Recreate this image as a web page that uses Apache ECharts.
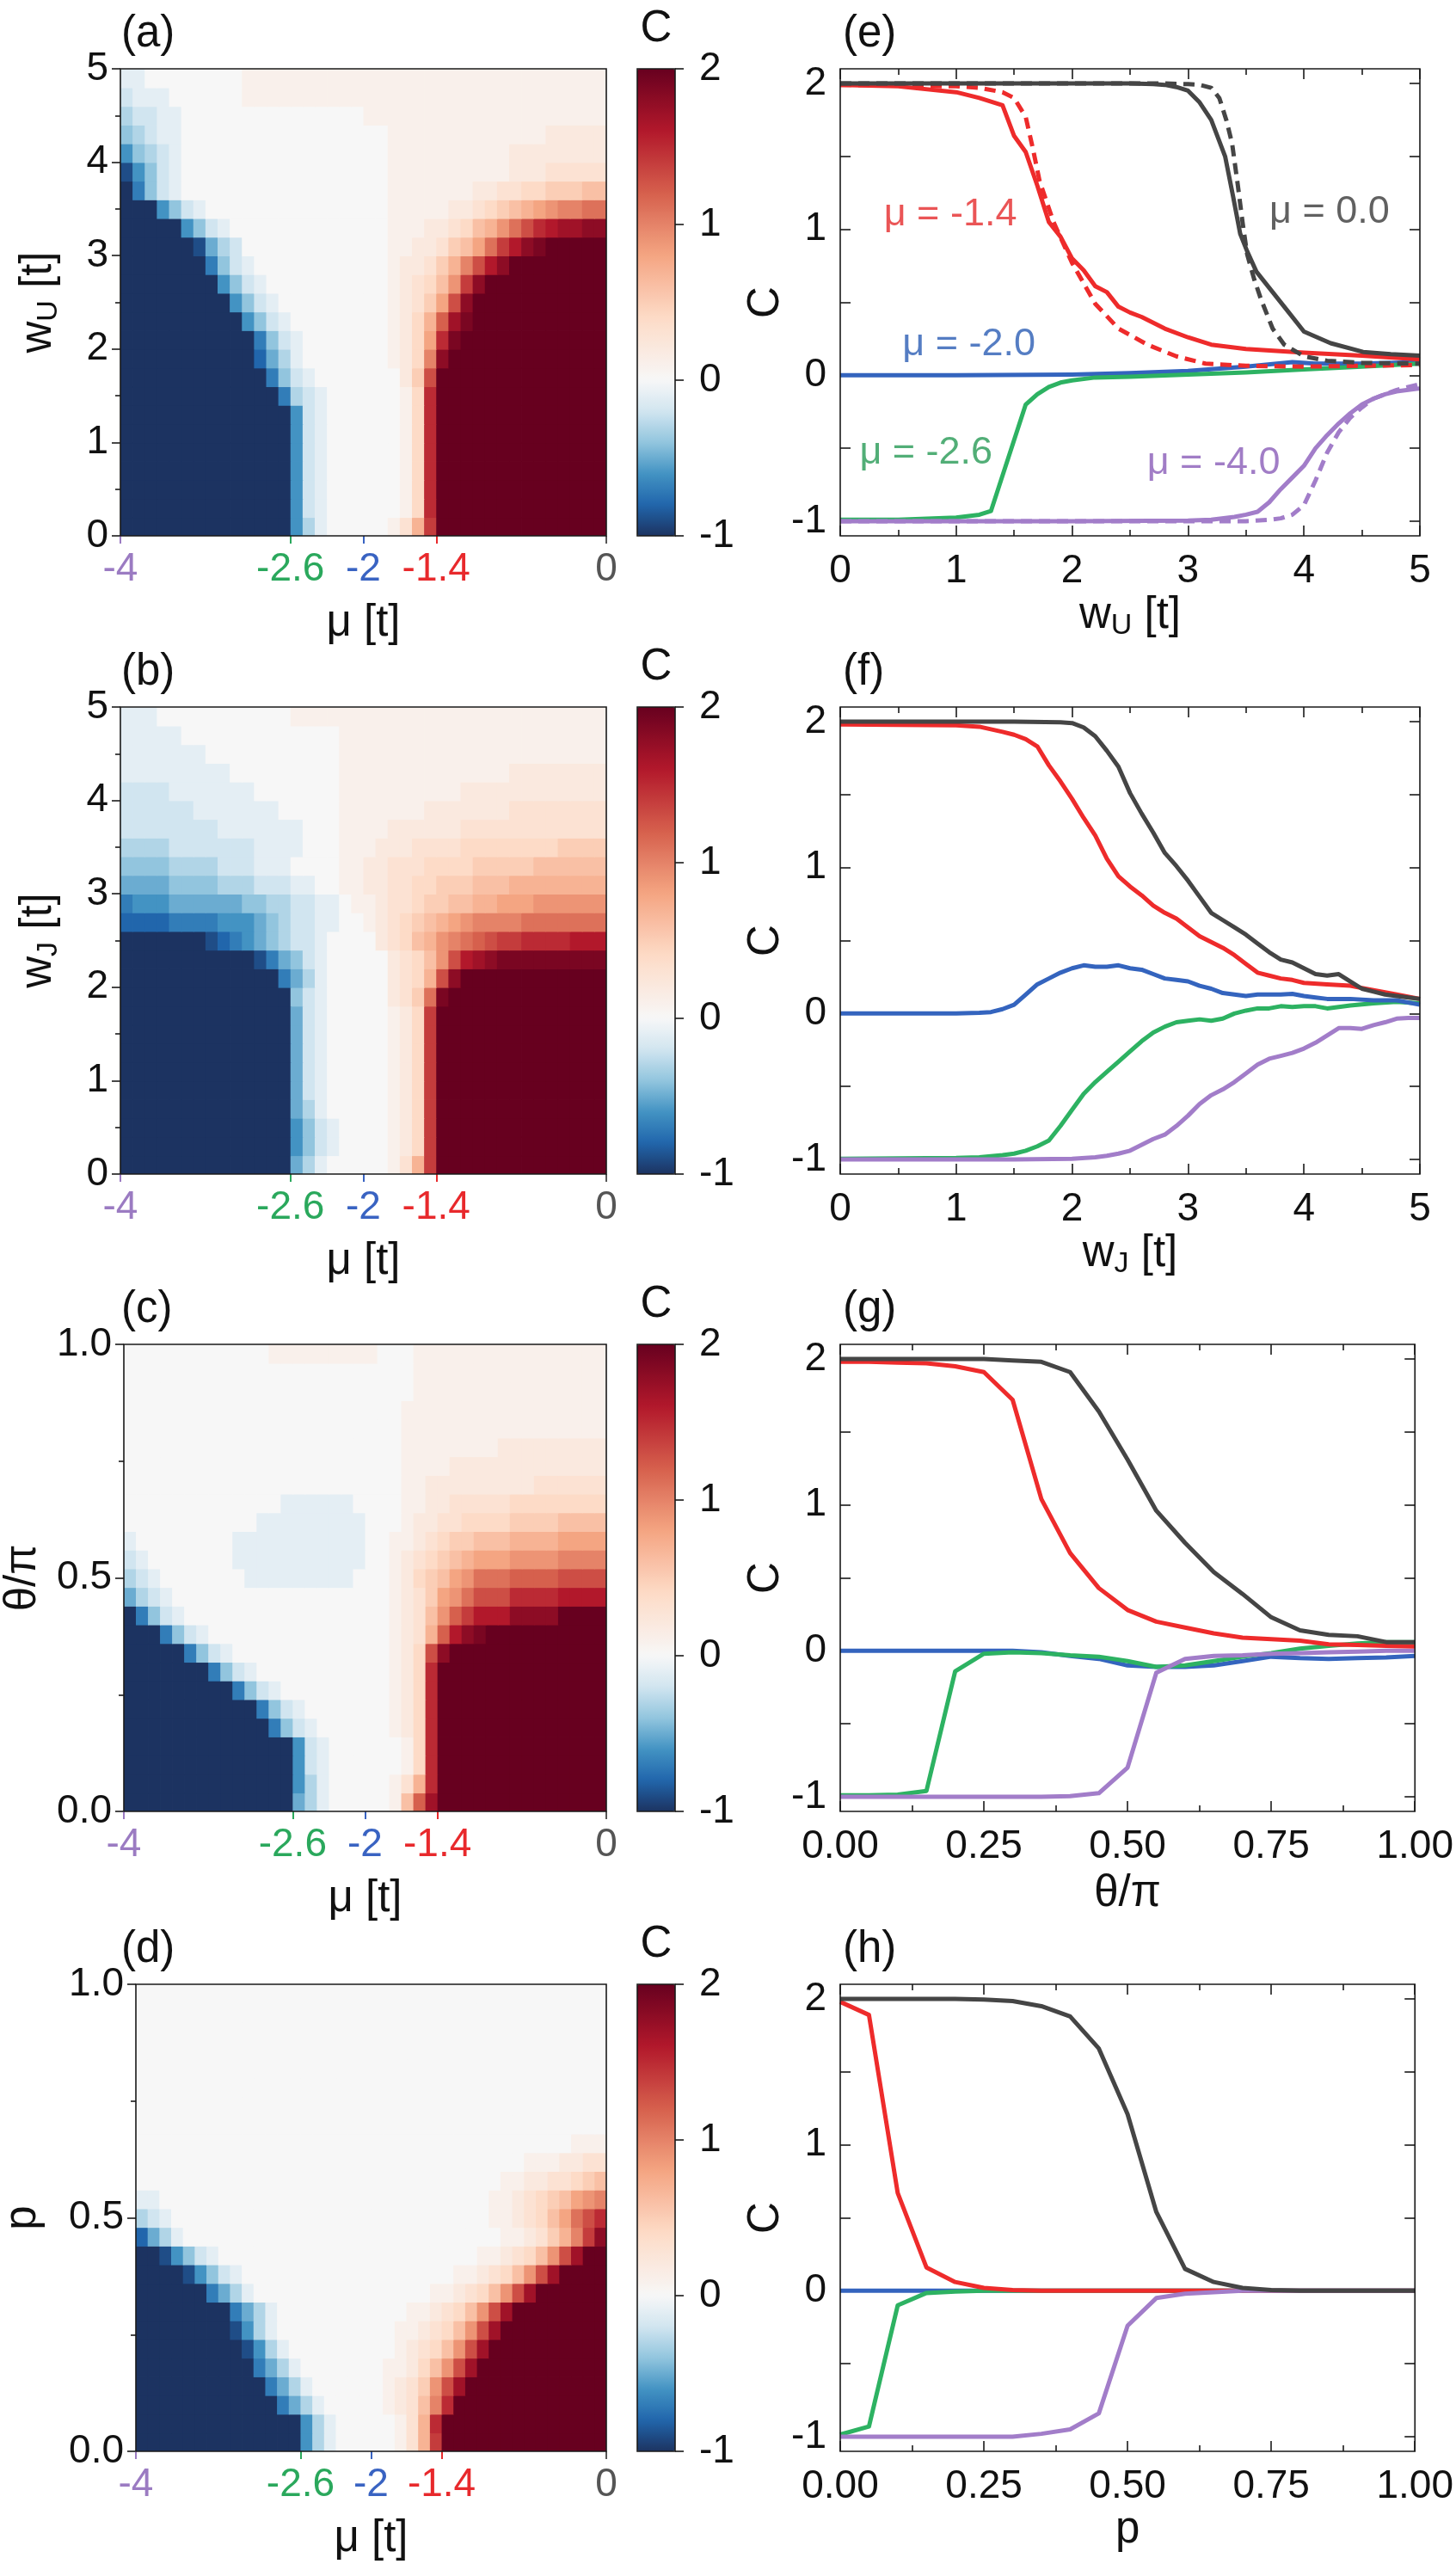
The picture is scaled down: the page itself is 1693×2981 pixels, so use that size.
<!DOCTYPE html>
<html><head><meta charset="utf-8">
<script src="https://cdn.jsdelivr.net/npm/echarts@6/dist/echarts.min.js"></script>
<style>html,body{margin:0;padding:0;background:#fff}#c{width:1693px;height:2981px}</style>
</head><body><div id="c"></div>
<script>
// ---------------- DATA ----------------
// heat-map cell centres
const muCells = [-3.95,-3.85,-3.75,-3.65,-3.55,-3.45,-3.35,-3.25,-3.15,-3.05,-2.95,-2.85,-2.75,-2.65,-2.55,-2.45,-2.35,-2.25,-2.15,-2.05,-1.95,-1.85,-1.75,-1.65,-1.55,-1.45,-1.35,-1.25,-1.15,-1.05,-0.95,-0.85,-0.75,-0.65,-0.55,-0.45,-0.35,-0.25,-0.15,-0.05];
const wCells = [0.1,0.3,0.5,0.7,0.9,1.1,1.3,1.5,1.7,1.9,2.1,2.3,2.5,2.7,2.9,3.1,3.3,3.5,3.7,3.9,4.1,4.3,4.5,4.7,4.9];
const fracCells = [0.02,0.06,0.10,0.14,0.18,0.22,0.26,0.30,0.34,0.38,0.42,0.46,0.50,0.54,0.58,0.62,0.66,0.70,0.74,0.78,0.82,0.86,0.90,0.94,0.98];
// C levels: letter index * 0.1 - 1  (A=-1, K=0, U=1, e=2); rows run-length coded, bottom row first
const levelCodes = "ABCDEFGHIJKLMNOPQRSTUVWXYZabcde";
const heatA = [
"A14 E H J K5 L N R Y e14","A14 E I J K6 L O Z e14","A14 E I J K6 L O Z e14","A14 E I J K6 L O Z e14","A14 E I J K6 L O Z e14",
"A14 E I J K6 L O Z e14","A14 E I J K6 L O Z e14","A13 D H I J K6 L O Z e14","A12 D G I J K7 M P X e14","A11 C F H J K7 L M O U c e13",
"A11 D G I J K7 L M O S Z d e12","A10 E G I J K8 L M O R W b d e11","A9 E G I J K9 L M N P S X c e11","A8 E G I J K10 L M N O Q T Y c e10","A7 D G I J K11 L M M N P R U X a c e8",
"A6 B F H I K12 L L M M N P Q S V Y a c d e5","A5 E G I J K13 L3 M2 N O Q R T V X Z a b2 c2","A3 E G I J K15 L5 M2 N O P Q R S T U2 V2","A D G I J K17 L7 M2 N2 O2 P3 Q2","B E G I J K17 L10 M3 N5",
"E G H I J K17 L10 M8","G H I J J K17 L13 M5","H I I J J K15 L20","I J3 K6 L30","J2 K8 L30"];
const heatB = [
"A14 F H J K5 L N R Y e14","A14 E G I J K4 L M O Y e14","A14 E G I J K4 L M O Y e14","A14 F H J K5 L M O Y e14","A14 F I J K5 L M O Y e14",
"A14 F I J K5 L M O Y e14","A14 F I J K5 L M O Y e14","A14 F I J K5 L M O Y e14","A14 F I J K5 L M O Y e14","A14 G I J K5 M N P V d e13",
"A13 D F H J K5 M N O R X c e12","A11 B D F G I J K5 M N O Q T X a b c d9","A7 B C D E F G H I I J K4 M N O Q R T U V W X Y Y Z4 a3","C4 D4 E3 F G H I I J J K2 L M N O P Q R S T U4 V7","D E3 F6 G2 H2 I2 J2 K L2 M N2 O P2 Q2 R2 S3 T6",
"F4 G4 H3 I3 J2 K2 L2 M2 N2 O2 P3 Q3 R8","G4 H4 I3 J3 K4 L2 M2 N3 O4 P5 Q6","H4 I7 J4 K3 L3 M3 N4 O8 P4","I8 J7 K3 L4 M6 N12","I6 J7 K5 L7 M7 N8",
"I4 J7 K7 L10 M12","J9 K9 L14 M8","J7 K11 L22","J5 K13 L22","J3 K11 L26"];
const heatC = [
"A14 F H J K5 L Q W b e14","A14 E H J K5 L N R Z e14","A14 E I J K6 L O Z e14","A14 E I J K6 L O Z e14","A12 D G I J K6 L M O Z e14",
"A11 D G I J K7 L M O Z e14","A9 D G I J K9 L M O Z e14","A7 D G I J K11 L M O Z e14","A5 D G I J K13 L M O X c e13","A3 D G I J K15 L M N R W a c d e10",
"A D G I J K17 L M N Q T W Y a3 c4 e4","F H I J K18 L M N P S T V X3 Z4 a4","H I J K7 J9 K3 L M O P Q S T V3 W4 X4","I J K7 J11 K2 L M N O P Q R S3 T4 U4","J K8 J11 K2 L L M N O P P Q3 R4 S4",
"K11 J9 K3 L M M N N O O3 P4 Q4","K13 J6 K4 L2 M2 N5 O8","K23 L2 M9 N6","K23 L4 M13","K23 L8 M9",
"K23 L17","K23 L17","K24 L16","K24 L16","K12 L9 K3 L16"];
const heatD = [
"A14 E H J K5 L N R Y e14","A14 E H J K5 L N R Z e14","A12 D F H J K5 L M N Q U Z e13","A11 D F H J K6 L M N P T X b e12","A10 D F H J K7 L L M O Q T X b e11",
"A9 B E H J K9 L M N O Q T X b e10","A8 B E H J K10 L L M N O Q T X b e9","A8 D F H J K11 L L M N O Q T X b e8","A6 D F H J K15 L L M N O Q T X b e6","A4 B E G I J K18 L L M N O Q T X b e4",
"A2 B E G I J K22 L L M N O Q T X b e2","C F H J K27 L L M N P R U Y c","H I J K27 L L M N O Q S V X Z","J2 K28 L L M N O P Q S T U","K31 L L M M N N O P Q",
"K33 L3 M2 N2","K37 L3","K40","K40","K40","K40","K40","K40","K40","K40"];

const muTicks = [-4, -2.6, -2, -1.4, 0];
const muTickLabels = ['-4', '-2.6', '-2', '-1.4', '0'];
const muTickColors = ['#9b7bc2', '#2aa85c', '#3963c2', '#e8292c', '#555555'];
const cbTicks = [-1, 0, 1, 2];
const lineYLabels = [-1, 0, 1, 2];
const lineYTicks = [-1, -0.5, 0, 0.5, 1, 1.5, 2];

// (e)  C vs w_U
const eBlack = [[0,2],[1,2],[2,2],[2.5,2],[2.7,1.995],[2.8,1.99],[2.9,1.975],[3.0,1.95],[3.1,1.87],[3.2,1.75],[3.32,1.5],[3.39,1.22],[3.45,0.97],[3.51,0.85],[3.59,0.71],[3.73,0.57],[3.87,0.43],[4.0,0.3],[4.23,0.22],[4.51,0.16],[4.75,0.145],[5.0,0.135]];
const eBlackDash = [[0,2],[2.8,2],[3.0,1.995],[3.1,1.99],[3.2,1.97],[3.27,1.9],[3.33,1.75],[3.38,1.59],[3.43,1.3],[3.47,1.05],[3.51,0.83],[3.57,0.66],[3.63,0.52],[3.73,0.32],[3.83,0.21],[4.0,0.13],[4.2,0.1],[4.5,0.085],[5.0,0.08]];
const eRed = [[0,1.99],[0.5,1.98],[1.0,1.94],[1.2,1.9],[1.4,1.85],[1.5,1.64],[1.6,1.53],[1.7,1.3],[1.8,1.05],[1.9,0.95],[2.0,0.8],[2.1,0.72],[2.2,0.61],[2.3,0.57],[2.4,0.47],[2.5,0.43],[2.6,0.4],[2.8,0.32],[3.0,0.26],[3.2,0.21],[3.5,0.18],[4.0,0.155],[4.5,0.135],[5.0,0.11]];
const eRedDash = [[0,1.99],[1.0,1.98],[1.2,1.97],[1.4,1.94],[1.5,1.9],[1.6,1.77],[1.66,1.56],[1.72,1.33],[1.84,1.05],[2.0,0.77],[2.2,0.49],[2.4,0.32],[2.65,0.21],[2.9,0.13],[3.15,0.08],[3.5,0.065],[4.0,0.06],[4.5,0.065],[5.0,0.07]];
const eBlue = [[0,0],[1,0],[2,0.005],[2.5,0.015],[3,0.03],[3.5,0.06],[3.9,0.09],[4.1,0.08],[4.5,0.08],[5,0.09]];
const eGreen = [[0,-0.99],[0.5,-0.99],[1.0,-0.975],[1.2,-0.955],[1.3,-0.93],[1.6,-0.2],[1.7,-0.13],[1.8,-0.08],[1.9,-0.05],[2.0,-0.035],[2.2,-0.015],[2.5,-0.01],[3.0,0.005],[3.5,0.02],[4.0,0.04],[4.5,0.06],[5.0,0.08]];
const ePurple = [[0,-1],[2,-1],[3.0,-0.995],[3.2,-0.99],[3.4,-0.97],[3.5,-0.955],[3.6,-0.935],[3.7,-0.87],[3.8,-0.78],[3.9,-0.7],[4.0,-0.62],[4.1,-0.5],[4.2,-0.41],[4.3,-0.33],[4.4,-0.26],[4.5,-0.2],[4.6,-0.16],[4.7,-0.13],[4.8,-0.11],[4.9,-0.1],[5.0,-0.09]];
const ePurpleDash = [[0,-1],[3.5,-1],[3.7,-0.99],[3.8,-0.98],[3.9,-0.955],[4.0,-0.89],[4.1,-0.72],[4.2,-0.53],[4.3,-0.39],[4.4,-0.29],[4.5,-0.22],[4.6,-0.16],[4.7,-0.13],[4.8,-0.1],[4.9,-0.08],[5.0,-0.06]];
const eNoteText = ['μ = -1.4', 'μ = 0.0', 'μ = -2.0', 'μ = -2.6', 'μ = -4.0'];
const eNoteAt = [[0.95,1.10],[4.22,1.12],[1.11,0.21],[0.74,-0.53],[3.22,-0.60]];
const eNoteColor = ['#e52a2c', '#3a3a3a', '#2b5db4', '#279a55', '#8a5cb8'];

// (f)  C vs w_J
const fBlack = [[0,2],[1,2],[1.5,2],[1.9,1.995],[2.0,1.99],[2.1,1.96],[2.2,1.9],[2.3,1.8],[2.4,1.69],[2.5,1.51],[2.6,1.37],[2.7,1.24],[2.8,1.1],[2.9,1.01],[3.0,0.91],[3.1,0.8],[3.2,0.69],[3.3,0.64],[3.4,0.59],[3.5,0.54],[3.6,0.48],[3.7,0.42],[3.8,0.37],[3.9,0.35],[4.0,0.31],[4.1,0.27],[4.2,0.26],[4.3,0.27],[4.4,0.22],[4.5,0.17],[4.6,0.15],[4.7,0.13],[4.8,0.12],[4.9,0.11],[5.0,0.1]];
const fRed = [[0,1.98],[1.0,1.975],[1.2,1.965],[1.4,1.93],[1.5,1.91],[1.6,1.88],[1.7,1.83],[1.8,1.7],[1.9,1.59],[2.0,1.47],[2.1,1.34],[2.2,1.22],[2.3,1.06],[2.4,0.94],[2.5,0.87],[2.6,0.81],[2.7,0.74],[2.8,0.69],[2.9,0.65],[3.0,0.59],[3.1,0.53],[3.2,0.49],[3.3,0.45],[3.4,0.4],[3.5,0.34],[3.6,0.28],[3.7,0.26],[3.8,0.24],[3.9,0.23],[4.0,0.21],[4.2,0.2],[4.4,0.19],[4.6,0.16],[4.8,0.13],[5.0,0.1]];
const fBlue = [[0,0],[1.0,0],[1.2,0.005],[1.3,0.01],[1.4,0.03],[1.5,0.06],[1.6,0.13],[1.7,0.2],[1.8,0.24],[1.9,0.28],[2.0,0.31],[2.1,0.33],[2.2,0.32],[2.3,0.32],[2.4,0.33],[2.5,0.31],[2.6,0.3],[2.7,0.27],[2.8,0.24],[2.9,0.23],[3.0,0.22],[3.1,0.19],[3.2,0.17],[3.3,0.14],[3.4,0.13],[3.5,0.12],[3.6,0.13],[3.8,0.13],[3.9,0.135],[4.0,0.12],[4.1,0.11],[4.2,0.1],[4.4,0.1],[4.6,0.09],[4.8,0.09],[5.0,0.06]];
const fGreen = [[0,-0.995],[1.0,-0.99],[1.2,-0.985],[1.4,-0.97],[1.5,-0.96],[1.6,-0.94],[1.7,-0.91],[1.8,-0.87],[1.9,-0.77],[2.0,-0.66],[2.1,-0.55],[2.2,-0.47],[2.3,-0.4],[2.4,-0.33],[2.5,-0.26],[2.6,-0.19],[2.7,-0.13],[2.8,-0.09],[2.9,-0.06],[3.0,-0.05],[3.1,-0.04],[3.2,-0.05],[3.3,-0.035],[3.4,0],[3.5,0.02],[3.6,0.035],[3.7,0.035],[3.8,0.05],[3.9,0.045],[4.0,0.05],[4.1,0.05],[4.2,0.035],[4.3,0.045],[4.4,0.055],[4.6,0.07],[4.8,0.08],[5.0,0.07]];
const fPurple = [[0,-1],[1.5,-1],[2.0,-0.995],[2.2,-0.985],[2.3,-0.975],[2.4,-0.96],[2.5,-0.94],[2.6,-0.9],[2.7,-0.86],[2.8,-0.83],[2.9,-0.77],[3.0,-0.7],[3.1,-0.62],[3.2,-0.56],[3.3,-0.52],[3.4,-0.47],[3.5,-0.41],[3.6,-0.35],[3.7,-0.31],[3.8,-0.29],[3.9,-0.27],[4.0,-0.24],[4.1,-0.2],[4.2,-0.15],[4.3,-0.1],[4.4,-0.1],[4.5,-0.105],[4.6,-0.08],[4.7,-0.06],[4.8,-0.035],[4.9,-0.03],[5.0,-0.03]];

// (g)  C vs theta/pi
const gBlack = [[0,2],[0.05,2],[0.1,2],[0.15,2],[0.2,2],[0.25,2],[0.3,1.99],[0.35,1.98],[0.4,1.91],[0.45,1.64],[0.5,1.31],[0.55,0.96],[0.6,0.74],[0.65,0.54],[0.7,0.39],[0.75,0.23],[0.8,0.14],[0.85,0.11],[0.9,0.1],[0.95,0.06],[1.0,0.06]];
const gRed = [[0,1.98],[0.05,1.98],[0.1,1.975],[0.15,1.97],[0.2,1.95],[0.25,1.91],[0.3,1.72],[0.35,1.04],[0.4,0.67],[0.45,0.43],[0.5,0.28],[0.55,0.2],[0.6,0.16],[0.65,0.12],[0.7,0.09],[0.75,0.08],[0.8,0.07],[0.85,0.045],[0.9,0.04],[0.95,0.035],[1.0,0.03]];
const gBlue = [[0,0],[0.05,0],[0.1,0],[0.15,0],[0.2,0],[0.25,0],[0.3,0],[0.35,-0.01],[0.4,-0.035],[0.45,-0.055],[0.5,-0.1],[0.55,-0.11],[0.6,-0.11],[0.65,-0.1],[0.7,-0.07],[0.75,-0.04],[0.8,-0.05],[0.85,-0.055],[0.9,-0.05],[0.95,-0.045],[1.0,-0.035]];
const gGreen = [[0,-0.99],[0.05,-0.99],[0.1,-0.985],[0.15,-0.96],[0.2,-0.14],[0.25,-0.02],[0.3,-0.01],[0.35,-0.015],[0.4,-0.03],[0.45,-0.04],[0.5,-0.07],[0.55,-0.11],[0.6,-0.1],[0.65,-0.07],[0.7,-0.04],[0.75,-0.015],[0.8,0.015],[0.85,0.035],[0.9,0.05],[0.95,0.06],[1.0,0.06]];
const gPurple = [[0,-1],[0.05,-1],[0.1,-1],[0.15,-1],[0.2,-1],[0.25,-1],[0.3,-1],[0.35,-1],[0.4,-0.995],[0.45,-0.975],[0.5,-0.8],[0.55,-0.15],[0.6,-0.055],[0.65,-0.035],[0.7,-0.03],[0.75,-0.02],[0.8,-0.015],[0.85,-0.01],[0.9,-0.005],[0.95,0],[1.0,0]];

// (h)  C vs p
const hBlack = [[0,2],[0.05,2],[0.1,2],[0.15,2],[0.2,2],[0.25,1.995],[0.3,1.985],[0.35,1.95],[0.4,1.88],[0.45,1.66],[0.5,1.21],[0.55,0.54],[0.6,0.15],[0.65,0.06],[0.7,0.02],[0.75,0.005],[0.8,0],[0.85,0],[0.9,0],[0.95,0],[1.0,0]];
const hRed = [[0,1.98],[0.05,1.89],[0.1,0.67],[0.15,0.16],[0.2,0.06],[0.25,0.02],[0.3,0.005],[0.35,0],[0.5,0],[0.75,0],[1.0,0]];
const hBlue = [[0,0],[0.25,0],[0.5,0],[0.75,0],[1.0,0]];
const hGreen = [[0,-0.985],[0.05,-0.93],[0.1,-0.1],[0.15,-0.015],[0.2,-0.005],[0.25,0],[0.5,0],[0.75,0],[1.0,0]];
const hPurple = [[0,-1],[0.05,-1],[0.1,-1],[0.15,-1],[0.2,-1],[0.25,-1],[0.3,-1],[0.35,-0.98],[0.4,-0.95],[0.45,-0.84],[0.5,-0.24],[0.55,-0.05],[0.6,-0.02],[0.65,-0.01],[0.7,0],[0.75,0],[0.8,0],[1.0,0]];

// ---------------- STYLE / LAYOUT ----------------
const FONT = "'Liberation Sans', Arial, Helvetica, sans-serif";
const INK = '#111111';
const rowTops = [80, 822, 1563, 2307];
const PLOT_H = 543;
const HEAT_LEFT = 140, HEAT_W = 565;
const CB_LEFT = 741, CB_W = 44;
const LINE_LEFT = 977, LINE_W = 674;
const TICK_FS = 46, NAME_FS = 51;
const cmap = ['#1c3361','#2166ac','#4393c3','#92c5de','#d1e5f0','#f7f7f7','#fae9df','#fddbc7','#f9c0a5','#f4a582','#e58368','#d6604d','#c43c3c','#b2182b','#8d0c25','#67001f'];
const COL = {black:'#454545', red:'#ee2b2b', blue:'#3464be', green:'#2db262', purple:'#a27dc9'};

function levelValue(ch) { return Math.round((levelCodes.indexOf(ch) * 0.1 - 1) * 10) / 10; }
function decodeRow(rle) {
  const out = [];
  rle.trim().split(/\s+/).forEach(tok => {
    const n = tok.length > 1 ? parseInt(tok.slice(1), 10) : 1;
    for (let i = 0; i < n; i++) out.push(levelValue(tok[0]));
  });
  return out;
}
function heatData(rows, yCells) {
  const out = [];
  rows.forEach((rle, r) => {
    decodeRow(rle).forEach((v, c) => { if (c < muCells.length) out.push([muCells[c], yCells[r], v]); });
  });
  return out;
}
function cellRenderer(dx, dy) {
  return function (params, api) {
    const x = api.value(0), y = api.value(1);
    const p0 = api.coord([x - dx / 2, y + dy / 2]);
    const p1 = api.coord([x + dx / 2, y - dy / 2]);
    return { type: 'rect', shape: { x: p0[0], y: p0[1], width: p1[0] - p0[0] + 0.8, height: p1[1] - p0[1] + 0.8 },
      style: { fill: api.visual('color') } };
  };
}
const subRich = {
  i: { fontSize: NAME_FS, fontFamily: FONT, color: INK },
  s: { fontSize: 34, fontFamily: FONT, color: INK, padding: [24, 0, 0, 0] }
};
const nameStyle = { fontSize: NAME_FS, fontFamily: FONT, color: INK, rich: subRich };
const tickLine = { color: '#1a1a1a', width: 1.6 };
const noLine = { show: false, onZero: false };

const heatPanels = [
  { rows: heatA, yCells: wCells, dy: 0.2, yMax: 5, yInt: 1, fmt: v => String(v), name: '{i|w}{s|U}{i| [t]}', gap: 66, letter: '(a)' },
  { rows: heatB, yCells: wCells, dy: 0.2, yMax: 5, yInt: 1, fmt: v => String(v), name: '{i|w}{s|J}{i| [t]}', gap: 66, letter: '(b)' },
  { rows: heatC, yCells: fracCells, dy: 0.04, yMax: 1, yInt: 0.5, fmt: v => v.toFixed(1), name: 'θ/π', gap: 92, letter: '(c)' },
  { rows: heatD, yCells: fracCells, dy: 0.04, yMax: 1, yInt: 0.5, fmt: v => v.toFixed(1), name: 'p', gap: 106, letter: '(d)' }
];
const linePanels = [
  { xMax: 5, xInt: 1, fmt: v => String(v), name: '{i|w}{s|U}{i| [t]}', gap: 64, letter: '(e)',
    lines: [[eBlue, COL.blue, 'solid'], [eGreen, COL.green, 'solid'], [ePurpleDash, COL.purple, 'dash'], [ePurple, COL.purple, 'solid'],
            [eRedDash, COL.red, 'dash'], [eRed, COL.red, 'solid'], [eBlackDash, COL.black, 'dash'], [eBlack, COL.black, 'solid']] },
  { xMax: 5, xInt: 1, fmt: v => String(v), name: '{i|w}{s|J}{i| [t]}', gap: 64, letter: '(f)',
    lines: [[fGreen, COL.green, 'solid'], [fPurple, COL.purple, 'solid'], [fBlue, COL.blue, 'solid'], [fRed, COL.red, 'solid'], [fBlack, COL.black, 'solid']] },
  { xMax: 1, xInt: 0.25, fmt: v => v.toFixed(2), name: 'θ/π', gap: 70, letter: '(g)',
    lines: [[gBlue, COL.blue, 'solid'], [gGreen, COL.green, 'solid'], [gPurple, COL.purple, 'solid'], [gRed, COL.red, 'solid'], [gBlack, COL.black, 'solid']] },
  { xMax: 1, xInt: 0.25, fmt: v => v.toFixed(2), name: 'p', gap: 66, letter: '(h)',
    lines: [[hBlue, COL.blue, 'solid'], [hGreen, COL.green, 'solid'], [hRed, COL.red, 'solid'], [hPurple, COL.purple, 'solid'], [hBlack, COL.black, 'solid']] }
];

const option = { animation: false, backgroundColor: '#ffffff', textStyle: { fontFamily: FONT },
  grid: [], xAxis: [], yAxis: [], series: [], visualMap: [], graphic: [] };

function addText(text, x, y, size, align) {
  option.graphic.push({ type: 'text', x: x, y: y, silent: true, z: 20,
    style: { text: text, font: size + 'px ' + FONT, fill: INK, align: align || 'left', verticalAlign: 'middle' } });
}

rowTops.forEach((top, i) => {
  const hp = heatPanels[i], lp = linePanels[i];
  // ---- heat map ----
  const gH = option.grid.length;
  option.grid.push({ left: HEAT_LEFT, top: top, width: HEAT_W, height: PLOT_H, show: true, z: 5,
    backgroundColor: 'rgba(0,0,0,0)', borderColor: '#1a1a1a', borderWidth: 1.6 });
  const xH = option.xAxis.length;
  muTicks.forEach((v, k) => {
    option.xAxis.push({ gridIndex: gH, type: 'value', min: -4, max: 0, position: 'bottom',
      axisLine: noLine, splitLine: { show: false },
      axisTick: { show: true, inside: false, length: 9, customValues: [v], lineStyle: { color: muTickColors[k], width: 2 } },
      axisLabel: { show: true, customValues: [v], formatter: () => muTickLabels[k], color: muTickColors[k], fontSize: TICK_FS, fontFamily: FONT, margin: 16 },
      name: k === 0 ? 'μ [t]' : '', nameLocation: 'middle', nameGap: 76, nameTextStyle: nameStyle });
  });
  const yH = option.yAxis.length;
  option.yAxis.push({ gridIndex: gH, type: 'value', min: 0, max: hp.yMax, interval: hp.yInt, position: 'left',
    axisLine: noLine, splitLine: { show: false },
    axisTick: { show: true, inside: false, length: 10, lineStyle: tickLine },
    minorTick: { show: true, splitNumber: 2, length: 6, lineStyle: tickLine },
    axisLabel: { formatter: hp.fmt, fontSize: TICK_FS, fontFamily: FONT, color: INK, margin: 14 },
    name: hp.name, nameLocation: 'middle', nameGap: hp.gap, nameTextStyle: nameStyle });
  const sHeat = option.series.length;
  option.series.push({ type: 'custom', name: 'C' + i, xAxisIndex: xH, yAxisIndex: yH, data: heatData(hp.rows, hp.yCells),
    renderItem: cellRenderer(0.1, hp.dy), clip: true, silent: true, z: 1, encode: { x: 0, y: 1 } });
  option.visualMap.push({ type: 'continuous', seriesIndex: sHeat, dimension: 2, min: -1, max: 2, calculable: false,
    hoverLink: false, orient: 'vertical', left: CB_LEFT, top: top, itemWidth: CB_W, itemHeight: PLOT_H, padding: 0,
    inRange: { color: cmap } });
  // ---- colour bar frame and ticks ----
  const gC = option.grid.length;
  option.grid.push({ left: CB_LEFT, top: top, width: CB_W, height: PLOT_H, show: true, z: 10,
    backgroundColor: 'rgba(0,0,0,0)', borderColor: '#1a1a1a', borderWidth: 1.6 });
  option.xAxis.push({ gridIndex: gC, type: 'value', min: 0, max: 1, show: false, axisLine: noLine });
  option.yAxis.push({ gridIndex: gC, type: 'value', min: -1, max: 2, interval: 1, position: 'right',
    axisLine: noLine, splitLine: { show: false },
    axisTick: { show: true, inside: false, length: 10, customValues: cbTicks, lineStyle: tickLine },
    axisLabel: { customValues: cbTicks, fontSize: TICK_FS, fontFamily: FONT, color: INK, margin: 28 } });
  addText('C', CB_LEFT + CB_W / 2, top - 46, NAME_FS, 'center');
  // ---- line chart ----
  const gL = option.grid.length;
  option.grid.push({ left: LINE_LEFT, top: top, width: LINE_W, height: PLOT_H, show: true, z: 5,
    backgroundColor: 'rgba(0,0,0,0)', borderColor: '#1a1a1a', borderWidth: 1.6 });
  const xL = option.xAxis.length;
  option.xAxis.push({ gridIndex: gL, type: 'value', min: 0, max: lp.xMax, interval: lp.xInt, position: 'bottom',
    axisLine: noLine, splitLine: { show: false },
    axisTick: { show: true, inside: true, length: 12, lineStyle: tickLine },
    minorTick: { show: true, splitNumber: 2, length: 7, lineStyle: tickLine },
    axisLabel: { formatter: lp.fmt, fontSize: TICK_FS, fontFamily: FONT, color: INK, margin: 18 },
    name: lp.name, nameLocation: 'middle', nameGap: lp.gap, nameTextStyle: nameStyle });
  option.xAxis.push({ gridIndex: gL, type: 'value', min: 0, max: lp.xMax, interval: lp.xInt, position: 'top',
    axisLine: noLine, splitLine: { show: false }, axisLabel: { show: false },
    axisTick: { show: true, inside: true, length: 12, lineStyle: tickLine },
    minorTick: { show: true, splitNumber: 2, length: 7, lineStyle: tickLine } });
  const yL = option.yAxis.length;
  option.yAxis.push({ gridIndex: gL, type: 'value', min: -1.1, max: 2.1, position: 'left',
    axisLine: noLine, splitLine: { show: false },
    axisTick: { show: true, inside: true, length: 12, customValues: lineYTicks, lineStyle: tickLine },
    axisLabel: { customValues: lineYLabels, fontSize: TICK_FS, fontFamily: FONT, color: INK, margin: 16 },
    name: 'C', nameLocation: 'middle', nameGap: 60, nameTextStyle: nameStyle });
  option.yAxis.push({ gridIndex: gL, type: 'value', min: -1.1, max: 2.1, position: 'right',
    axisLine: noLine, splitLine: { show: false }, axisLabel: { show: false },
    axisTick: { show: true, inside: true, length: 12, customValues: lineYTicks, lineStyle: tickLine } });
  lp.lines.forEach(([data, color, kind]) => {
    option.series.push({ type: 'line', xAxisIndex: xL, yAxisIndex: yL, data: data, showSymbol: false, symbol: 'none',
      clip: true, silent: true, z: 3,
      lineStyle: { color: color, width: 5, type: kind === 'dash' ? [13, 8] : 'solid', cap: 'butt', join: 'round' } });
  });
  if (i === 0) {
    option.series.push({ type: 'scatter', xAxisIndex: xL, yAxisIndex: yL, symbolSize: 1, silent: true, z: 6,
      itemStyle: { color: 'rgba(0,0,0,0)' },
      label: { show: true, position: 'inside', fontSize: 45, fontFamily: FONT },
      data: eNoteText.map((t, k) => ({ value: eNoteAt[k], label: { formatter: t, color: eNoteColor[k] } })) });
  }
  addText(hp.letter, 141, top - 40, NAME_FS, 'left');
  addText(lp.letter, 980, top - 40, NAME_FS, 'left');
});

const chart = echarts.init(document.getElementById('c'), null, { renderer: 'canvas' });
chart.setOption(option);
</script></body></html>
